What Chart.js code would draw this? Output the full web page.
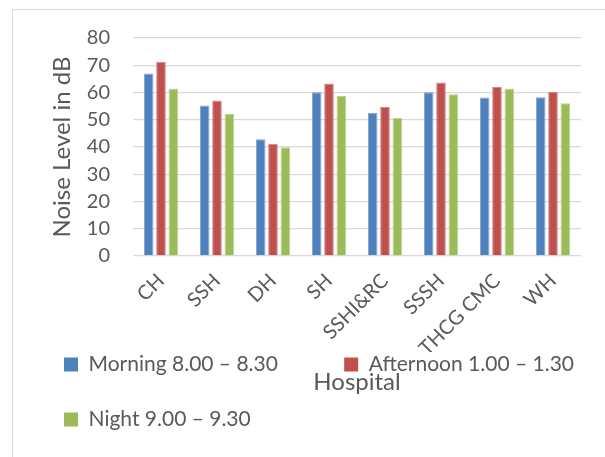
<!DOCTYPE html>
<html>
<head>
<meta charset="utf-8">
<script src="https://cdn.jsdelivr.net/npm/chart.js@4/dist/chart.umd.min.js"></script>
<style>
  html, body { margin: 0; padding: 0; background: #fff; overflow: hidden; }
  #wrap { position: relative; width: 640px; height: 457px; }
</style>
</head>
<body>
<div id="wrap"><canvas id="c"></canvas></div>
<script>
// Hospitals surveyed
const hospitals = ['CH', 'SSH', 'DH', 'SH', 'SSHI&RC', 'SSSH', 'THCG CMC', 'WH'];

// Noise level (dB) in each time slot
const morning   = [67.0, 55.2, 42.8, 60.1, 52.6, 60.1, 58.2, 58.3];
const afternoon = [71.3, 57.1, 41.2, 63.3, 54.7, 63.7, 62.0, 60.3];
const night     = [61.5, 52.1, 39.9, 58.7, 50.6, 59.4, 61.5, 56.1];

const seriesNames = ['Morning 8.00 \u2013 8.30', 'Afternoon 1.00 \u2013 1.30', 'Night 9.00 \u2013 9.30'];

const yTicks = [0, 10, 20, 30, 40, 50, 60, 70, 80];

const textColor = '#595959';
const fontFamily = 'Lato, "Open Sans", sans-serif';

// light frame around the chart
const framePlugin = {
  id: 'frame',
  beforeDraw(chart) {
    const ctx = chart.ctx;
    ctx.save();
    ctx.strokeStyle = '#d9d9d9';
    ctx.lineWidth = 1;
    ctx.beginPath();
    ctx.moveTo(12.5, chart.height + 5);
    ctx.lineTo(12.5, 9.5);
    ctx.lineTo(chart.width + 5, 9.5);
    ctx.stroke();
    ctx.restore();
  }
};

new Chart(document.getElementById('c'), {
  type: 'bar',
  data: {
    labels: hospitals,
    datasets: [
      { label: seriesNames[0], data: morning,   backgroundColor: '#4f81bd', borderColor: '#7fa3d0' },
      { label: seriesNames[1], data: afternoon, backgroundColor: '#c0504d', borderColor: '#d8847f' },
      { label: seriesNames[2], data: night,     backgroundColor: '#9bbb59', borderColor: '#bcd38d' }
    ]
  },
  options: {
    responsive: true,
    maintainAspectRatio: false,
    animation: false,
    datasets: {
      bar: { categoryPercentage: 0.66, barPercentage: 0.78, borderWidth: 1 }
    },
    layout: { padding: { left: 30, top: 38, right: 0, bottom: 17 } },
    plugins: {
      title: { display: false },
      tooltip: { enabled: false },
      legend: {
        position: 'bottom',
        align: 'start',
        title: {
          display: true,
          text: '',
          font: { family: fontFamily, size: 20 },
          padding: { top: 0, bottom: -56 }
        },
        labels: {
          color: textColor,
          font: { family: fontFamily, size: 21 },
          boxWidth: 14,
          boxHeight: 14,
          padding: 34,
          generateLabels(chart) {
            const items = Chart.defaults.plugins.legend.labels.generateLabels(chart);
            items.forEach(it => { it.lineWidth = 0; it.strokeStyle = 'rgba(0,0,0,0)'; });
            items[0].text = items[0].text + '      ';
            return items;
          }
        }
      }
    },
    scales: {
      x: {
        grid: { display: false },
        border: { display: false },
        ticks: {
          color: textColor,
          font: { family: fontFamily, size: 20 },
          minRotation: 45,
          maxRotation: 45,
          padding: 5,
          autoSkip: false
        },
        title: {
          display: true,
          text: 'Hospital',
          color: textColor,
          font: { family: fontFamily, size: 24 },
          padding: { top: 0, bottom: -45 }
        },
        afterFit(scale) { scale.height = 96; }
      },
      y: {
        min: 0,
        max: 80,
        afterBuildTicks(scale) { scale.ticks = yTicks.map(v => ({ value: v })); },
        grid: { color: '#d9d9d9', lineWidth: 1.3, drawTicks: false },
        border: { display: false },
        ticks: {
          color: textColor,
          font: { family: fontFamily, size: 20 },
          padding: 23
        },
        title: {
          display: true,
          text: 'Noise Level in dB',
          color: textColor,
          font: { family: fontFamily, size: 24 },
          padding: { top: 18, bottom: 0 }
        },
        afterFit(scale) { scale.width = 103; }
      },
      yRight: {
        type: 'linear',
        position: 'right',
        grid: { display: false },
        border: { display: false },
        ticks: { display: false },
        afterFit(scale) { scale.width = 59; }
      }
    }
  },
  plugins: [framePlugin]
});
</script>
</body>
</html>
